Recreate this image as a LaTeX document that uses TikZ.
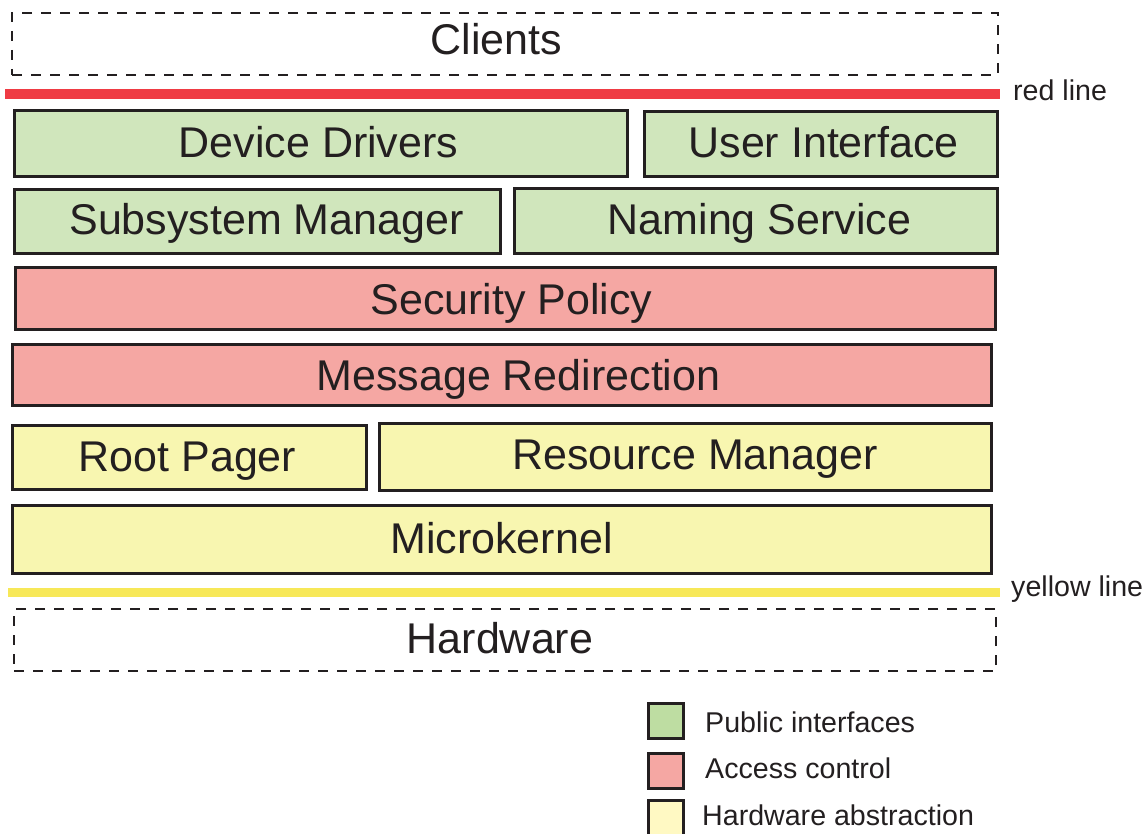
\documentclass[tikz,border=0pt]{standalone}
\usepackage{fontspec}
\setmainfont{Liberation Sans}
\usetikzlibrary{fit}
\definecolor{ink}{HTML}{231F20}
\definecolor{pubfill}{HTML}{D0E6BC}
\definecolor{accfill}{HTML}{F5A7A3}
\definecolor{hwfill}{HTML}{F8F6B0}
\definecolor{publeg}{HTML}{BEDDA2}
\definecolor{hwleg}{HTML}{FFF9C3}
\definecolor{redln}{HTML}{EF3B44}
\definecolor{yellowln}{HTML}{F7E858}
\tikzset{
  layerbox/.style={draw=ink, line width=3pt, inner sep=0pt, outer sep=0pt, rectangle},
  pubbox/.style={layerbox, fill=pubfill},
  accbox/.style={layerbox, fill=accfill},
  hwbox/.style={layerbox, fill=hwfill},
  dashbox/.style={draw=ink, line width=2.2pt, dash pattern=on 10pt off 9pt, inner sep=0pt, outer sep=0pt, rectangle},
  bigtxt/.style={font=\fontsize{43}{51}\selectfont, text=ink, inner sep=0pt, anchor=base},
  smalltxt/.style={font=\fontsize{28.6}{34}\selectfont, text=ink, inner sep=0pt, anchor=base west},
  legbox/.style={draw=ink, line width=3pt, inner sep=0pt, outer sep=0pt, rectangle}
}
\begin{document}
\begin{tikzpicture}[x=1pt, y=-1pt]
\useasboundingbox (0,0) rectangle (1147,834);
\clip (0,0) rectangle (1147,834);
\fill[white] (0,0) rectangle (1147,834);

% Clients
\node[dashbox, fit={(12,13) (998,75)}] (clients) {};
\node[bigtxt] (clients-t) at (496.5,54.5) {Clients};

% red line
\coordinate (rl-a) at (5,94);
\coordinate (rl-b) at (1000,94);
\draw[redln, line width=10pt] (rl-a) -- (rl-b);
\node[smalltxt] (rl-t) at (1013,101) {red line};

% public interfaces
\node[pubbox, fit={(14.5,110.5) (627.5,176.5)}] (dd) {};
\node[bigtxt] (dd-t) at (318.5,157.5) {Device Drivers};
\node[pubbox, fit={(644.5,111.5) (997.5,176.5)}] (ui) {};
\node[bigtxt] (ui-t) at (823.5,158) {User Interface};
\node[pubbox, fit={(14.5,189.5) (500.5,253.5)}] (sm) {};
\node[bigtxt] (sm-t) at (266.5,234.5) {Subsystem Manager};
\node[pubbox, fit={(514.5,188.5) (997.5,253.5)}] (ns) {};
\node[bigtxt] (ns-t) at (759.5,235) {Naming Service};

% access control
\node[accbox, fit={(15.5,267.5) (995.5,329.5)}] (sp) {};
\node[bigtxt] (sp-t) at (511.5,314.5) {Security Policy};
\node[accbox, fit={(12.5,344.5) (991.5,405.5)}] (mr) {};
\node[bigtxt] (mr-t) at (518.5,390.5) {Message Redirection};

% hardware abstraction
\node[hwbox, fit={(12.5,425.5) (366.5,489.5)}] (rp) {};
\node[bigtxt] (rp-t) at (187.5,471) {Root Pager};
\node[hwbox, fit={(379.5,423.5) (991.5,490.5)}] (rm) {};
\node[bigtxt] (rm-t) at (695,469.5) {Resource Manager};
\node[hwbox, fit={(12.5,505.5) (991.5,573.5)}] (mk) {};
\node[bigtxt] (mk-t) at (501.5,553.5) {Microkernel};

% yellow line
\coordinate (yl-a) at (8,592);
\coordinate (yl-b) at (1000,592);
\draw[yellowln, line width=9pt] (yl-a) -- (yl-b);
\node[smalltxt] (yl-t) at (1011,596) {yellow line};

% Hardware
\node[dashbox, fit={(14,609) (996,671)}] (hw) {};
\node[bigtxt] (hw-t) at (500,653.5) {Hardware};

% legend
\node[legbox, fill=publeg, fit={(648.5,703.5) (683.5,738.5)}] (leg1) {};
\node[smalltxt] (leg1-t) at (705,732) {Public interfaces};
\node[legbox, fill=accfill, fit={(648.5,753.5) (683.5,788.5)}] (leg2) {};
\node[smalltxt] (leg2-t) at (705,778) {Access control};
\node[legbox, fill=hwleg, fit={(648.5,800.5) (683.5,836.5)}] (leg3) {};
\node[smalltxt] (leg3-t) at (702,825) {Hardware abstraction};
\end{tikzpicture}
\end{document}
